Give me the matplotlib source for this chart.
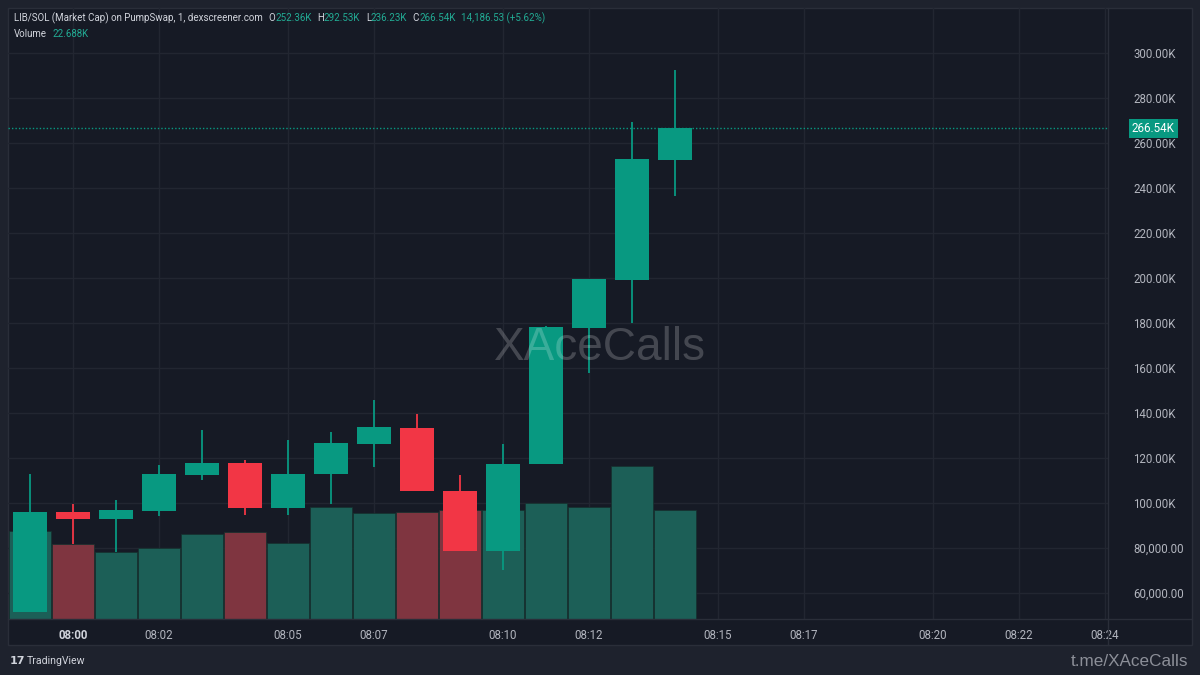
import matplotlib
matplotlib.use("Agg")
import matplotlib.pyplot as plt
from matplotlib.patches import Rectangle

# 1-minute candles, market cap in K
times = ['07:59', '08:00', '08:01', '08:02', '08:03', '08:04', '08:05', '08:06',
         '08:07', '08:08', '08:09', '08:10', '08:11', '08:12', '08:13', '08:14']
opens = [51.6, 96.0, 93.0, 96.4, 112.6, 117.6, 97.9, 112.9,
         126.4, 133.5, 105.5, 78.5, 117.2, 177.9, 199.1, 252.36]
highs = [112.9, 99.6, 101.3, 116.9, 132.4, 119.1, 128.0, 131.7,
         145.8, 139.4, 112.4, 126.1, 178.5, 199.6, 269.5, 292.53]
lows = [51.4, 81.8, 78.4, 94.2, 110.2, 94.7, 94.7, 99.6,
        116.1, 105.3, 78.5, 70.2, 117.2, 157.6, 179.9, 236.23]
closes = [96.0, 92.9, 96.9, 112.9, 117.6, 97.9, 112.9, 126.5,
          133.6, 105.3, 78.5, 117.3, 178.1, 199.4, 252.7, 266.54]
volumes = [18.30, 15.73, 14.00, 14.90, 17.82, 18.17, 15.88, 23.40,
           22.14, 22.27, 22.83, 22.69, 24.30, 23.46, 31.88, 22.688]

tick_pos = [1, 3, 6, 8, 11, 13, 16, 18, 21, 23, 25]
tick_lbl = ['08:00', '08:02', '08:05', '08:07', '08:10', '08:12',
            '08:15', '08:17', '08:20', '08:22', '08:24']
price_ticks = list(range(60, 301, 20))

BG = '#161a25'
FRAME = '#1e222d'
LINE = '#2a2e39'
GRID = '#222631'
GREEN = '#089981'
RED = '#f23645'
VGREEN = '#1c5f57'
VRED = '#7f3540'
TXT = '#b2b5be'
HTXT = '#d1d4dc'
HGREEN = '#22ab94'

W, H = 1200, 675
def fx(px):
    return px / W
def fy(py):
    return 1 - py / H

fig = plt.figure(figsize=(12, 6.75), dpi=100, facecolor=FRAME)

# chart panel
fig.patches.append(Rectangle((fx(8), fy(645)), fx(1184), (645 - 8) / H,
                             transform=fig.transFigure, facecolor=BG,
                             edgecolor=LINE, lw=1, zorder=-5))

pos = [fx(8), fy(619), fx(1100), 611 / H]
xlim = (-0.512, 25.07)
ylim = (48.44, 320.0)

# layer 1: grid
ax_bg = fig.add_axes(pos)
ax_bg.set_facecolor(BG)
ax_bg.set_xlim(xlim)
ax_bg.set_ylim(ylim)
for y in price_ticks:
    ax_bg.axhline(y, color=GRID, lw=1)
for x in tick_pos:
    ax_bg.axvline(x, color=GRID, lw=1)
ax_bg.axis('off')

# layer 2: volume
axv = fig.add_axes(pos)
axv.patch.set_visible(False)
axv.set_xlim(xlim)
axv.set_ylim(0, 127.6)
vcols = [VGREEN if c >= o else VRED for o, c in zip(opens, closes)]
axv.bar(range(len(volumes)), volumes, width=0.97, color=vcols, edgecolor='#15302d', lw=0.5)
axv.axis('off')

# layer 3: candles
ax = fig.add_axes(pos)
ax.patch.set_visible(False)
ax.set_xlim(xlim)
ax.set_ylim(ylim)
for s in ax.spines.values():
    s.set_visible(False)

idx = list(range(len(opens)))
ccols = [GREEN if c >= o else RED for o, c in zip(opens, closes)]
ax.vlines(idx, lows, highs, colors=ccols, lw=1.3)
bottoms = [min(o, c) for o, c in zip(opens, closes)]
heights = [abs(c - o) for o, c in zip(opens, closes)]
ax.bar(idx, heights, bottom=bottoms, width=0.79, color=ccols, lw=0)

# last price line + label
ax.axhline(closes[-1], color=GREEN, lw=1, ls=(0, (1, 1.5)))
ax.annotate(f'{closes[-1]:.2f}K', xy=(1, closes[-1]), xycoords=('axes fraction', 'data'),
            xytext=(24, 0), textcoords='offset pixels', ha='left', va='center',
            color='white', fontsize=8.4, family='Roboto', annotation_clip=False,
            bbox=dict(boxstyle='square,pad=0.28', fc=GREEN, ec='none'))

# axes ticks
ax.yaxis.tick_right()
ax.set_yticks(price_ticks)
ax.set_yticklabels([f'{v:.2f}K' if v >= 100 else f'{v * 1000:,.2f}' for v in price_ticks])
ax.tick_params(axis='y', length=0, pad=18, labelsize=8.3, labelcolor=TXT)
ax.set_xticks(tick_pos)
ax.set_xticklabels(tick_lbl)
ax.tick_params(axis='x', length=0, pad=7, labelsize=8.3, labelcolor=TXT)
for lbl in ax.get_yticklabels() + ax.get_xticklabels():
    lbl.set_family('Roboto')
ax.get_xticklabels()[0].set_fontweight('bold')
ax.get_xticklabels()[0].set_color(HTXT)

# separators
fig.add_artist(plt.Line2D([fx(1108), fx(1108)], [fy(8), fy(645)], color=LINE, lw=1,
                          transform=fig.transFigure))
fig.add_artist(plt.Line2D([fx(8), fx(1192)], [fy(619), fy(619)], color=LINE, lw=1,
                          transform=fig.transFigure))

# header
hdr = dict(fontsize=7.0, family='Roboto', va='center', ha='left')
t = fig.text(fx(14), fy(18), 'LIB/SOL (Market Cap) on PumpSwap, 1, dexscreener.com',
             color=HTXT, **hdr)
pieces = [('O', HTXT, 4), ('252.36K', HGREEN, 0), ('H', HTXT, 4), ('292.53K', HGREEN, 0),
          ('L', HTXT, 4), ('236.23K', HGREEN, 0), ('C', HTXT, 4), ('266.54K', HGREEN, 0),
          ('14,186.53 (+5.62%)', HGREEN, 4)]
for txt, col, gap in pieces:
    t = ax.annotate(txt, xy=(1, 0.5), xycoords=t, xytext=(gap, 0),
                    textcoords='offset points', color=col, annotation_clip=False, **hdr)
t = fig.text(fx(14), fy(34), 'Volume', color=HTXT, **hdr)
ax.annotate('22.688K', xy=(1, 0.5), xycoords=t, xytext=(4, 0), textcoords='offset points',
            color=HGREEN, annotation_clip=False, **hdr)

# watermark
fig.text(fx(600), fy(348), 'XAceCalls', ha='center', va='center', fontsize=33,
         family='Liberation Sans', color='white', alpha=0.2, zorder=10)

# footer
fig.text(fx(10), fy(661), '17', ha='left', va='center', fontsize=8, fontweight='heavy',
         family='DejaVu Sans', color=HTXT)
fig.text(fx(27), fy(661), 'TradingView', ha='left', va='center', fontsize=7.6,
         family='Roboto', color=HTXT)
fig.text(fx(1188), fy(662), 't.me/XAceCalls', ha='right', va='center', fontsize=12.3,
         family='Liberation Sans', color='#8c8f98')

fig.savefig('out.png', dpi=100, facecolor=FRAME)
